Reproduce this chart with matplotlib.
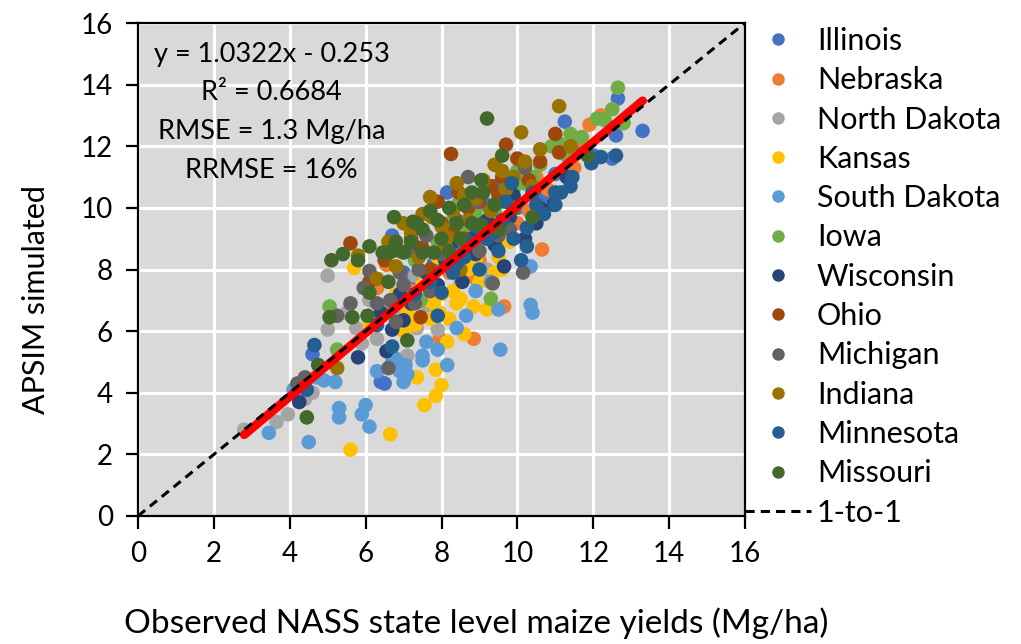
import matplotlib
matplotlib.use("Agg")
import matplotlib.pyplot as plt
from matplotlib.lines import Line2D
import numpy as np

plt.rcParams['font.family'] = ['Lato', 'DejaVu Sans']

states = ["Illinois", "Nebraska", "North Dakota", "Kansas", "South Dakota", "Iowa",
          "Wisconsin", "Ohio", "Michigan", "Indiana", "Minnesota", "Missouri"]
colors = ["#4472C4", "#ED7D31", "#A5A5A5", "#FFC000", "#5B9BD5", "#70AD47",
          "#264478", "#9E480E", "#636363", "#997300", "#255E91", "#43682B"]

illinois = [(12.65,13.55),(13.3,12.5),(12.6,12.35),(12.5,11.6),(11.25,12.8),(8.15,10.5),(6.7,9.1),
            (6.4,4.35),(4.6,5.25),(6.5,4.3),(9.6,9.4),(10.6,10.3),(11.6,11.8),(8.9,8.9),(7.8,8.2),
            (10.2,11.4),(9.2,10.1),(11.0,11.1),(7.3,7.6),(12.0,11.7),
            (9.0,9.5),(10.0,10.0),(8.5,8.7),(7.0,7.9),(10.9,10.4),(9.4,10.7)]
nebraska = [(8.85,5.75),(9.65,6.8),(10.65,8.65),(11.65,12.2),(12.2,13.0),(6.55,8.15),(7.95,5.75),
            (9.3,6.8),(10.0,9.5),(11.5,11.3),(8.2,7.9),(9.0,8.3),(7.6,7.8),(10.8,10.6),(11.9,12.7),
            (6.3,7.4),(8.7,9.2),(10.3,9.9),(9.6,9.0),(7.2,7.3),
            (9.9,10.3),(8.9,7.7),(10.5,11.0),(7.9,8.6),(11.2,11.9),(9.3,9.7)]
north_dakota = [(2.8,2.8),(3.65,3.05),(3.95,3.3),(5.0,7.8),(5.0,6.05),(6.3,5.75),(7.9,6.05),(5.75,6.1),
                (7.1,5.2),(7.35,6.1),(6.6,6.9),(7.0,7.5),(6.1,7.0),(7.8,7.2),(8.5,7.6),(4.6,4.0),
                (5.5,6.6),(6.9,6.6),(8.1,8.6),(9.2,8.0),(4.4,3.8),
                (6.4,6.6),(7.6,6.6),(5.9,5.6),(8.8,8.1),(7.3,7.8)]
kansas = [(5.6,2.15),(6.65,2.65),(7.55,3.6),(7.85,3.9),(8.0,4.25),(7.85,4.75),(7.35,4.5),(8.15,5.65),
          (8.6,5.9),(8.5,7.05),(8.85,6.8),(9.2,6.7),(8.2,6.4),(7.8,6.9),(7.95,6.6),(7.65,7.0),(9.5,8.4),
          (5.7,8.05),(7.3,6.2),(7.1,6.6),(8.3,7.3),(9.0,7.6),(6.8,7.2),(7.5,7.5),(8.7,8.0),(6.1,6.3),
          (9.8,8.9),(7.9,8.4),(8.0,7.2),(8.4,6.9),(9.4,7.9),(7.0,6.0),(8.9,8.3),(9.6,8.0),(7.7,6.4)]
south_dakota = [(3.45,2.7),(4.5,2.4),(5.3,3.5),(5.3,3.2),(6.0,3.6),(5.9,3.3),(6.1,2.9),(6.3,4.7),(7.0,4.35),
                (7.1,4.6),(7.5,5.2),(7.6,5.65),(7.9,5.4),(8.15,4.9),(6.7,5.0),(6.9,4.7),(8.65,6.5),(8.4,6.1),
                (7.5,5.05),(7.05,4.9),(9.55,5.4),(9.5,6.7),(6.8,5.1),(10.35,6.85),(10.4,6.6),(10.35,8.1),
                (4.9,4.4),(5.2,4.35),(4.7,4.5),(4.1,4.1),(8.9,7.3),(9.3,7.6)]
iowa = [(12.65,13.9),(12.5,13.2),(12.1,12.9),(12.3,12.85),(12.8,12.75),(11.4,12.4),(11.1,12.1),(10.9,12.0),
        (10.4,11.0),(5.05,6.8),(5.25,5.4),(7.45,7.0),(9.3,7.05),(8.45,10.15),(9.4,9.9),(10.0,11.2),(9.0,9.3),
        (7.3,8.3),(11.3,11.7),(8.6,9.2),(9.9,10.6),(6.6,8.5),
        (9.6,10.2),(10.6,11.4),(8.9,9.9),(8.2,9.5),(11.7,12.3),(10.2,10.8),(7.9,8.9)]
wisconsin = [(5.8,5.15),(6.7,6.05),(6.55,5.35),(4.25,3.7),(7.0,6.35),(8.55,7.6),(10.6,10.0),(10.95,10.1),
             (9.65,8.1),(7.6,7.9),(8.1,8.3),(9.2,9.6),(6.9,7.2),(10.2,9.0),(8.8,9.0),(7.4,8.7),(11.3,11.0),
             (9.9,10.4),(8.3,8.9),(9.4,8.8),(7.9,7.5),(10.5,9.5),(9.8,9.7),(8.9,8.5),(7.2,6.9),(6.4,6.6)]
ohio = [(5.6,8.85),(8.25,11.75),(11.0,12.4),(9.7,12.05),(11.1,11.8),(8.45,10.5),(9.6,11.0),(7.45,6.45),
        (6.5,8.3),(7.2,9.0),(8.0,9.5),(9.0,10.2),(10.3,10.9),(6.1,7.6),(7.7,8.0),(8.6,9.0),(9.9,10.0),
        (10.6,11.5),(9.3,10.7),(8.7,10.0),(7.5,8.7),(10.0,11.6),(8.3,9.2),(9.5,10.4),(7.9,10.2)]
michigan = [(4.4,4.5),(6.6,4.8),(5.25,6.5),(6.65,7.0),(5.95,7.4),(6.1,7.95),(7.0,7.5),(8.7,11.0),(10.2,11.3),
            (10.15,7.9),(9.35,7.55),(4.2,4.3),(6.8,6.3),(7.4,8.0),(8.0,8.5),(7.6,9.1),(9.0,8.6),(8.4,9.6),
            (7.1,8.6),(5.6,6.9),(9.8,9.3),(7.7,7.3),(8.2,8.1),(6.3,6.9),(8.6,8.8),(9.5,9.1),(7.3,6.9),
            (6.9,7.9),(8.9,10.2)]
indiana = [(11.1,13.3),(10.1,12.45),(7.7,10.35),(10.6,11.9),(9.4,11.4),(5.8,8.45),(5.25,4.8),(7.75,9.7),
           (8.15,9.05),(8.5,8.0),(6.9,8.6),(7.2,9.2),(8.9,10.3),(9.9,11.0),(6.6,8.9),(8.0,9.4),(9.3,9.9),
           (7.4,8.4),(10.4,10.7),(8.7,9.6),(6.3,7.7),(9.7,10.6),(11.4,12.0),(8.4,10.8),
           (8.3,9.9),(9.1,10.9),(7.5,9.8),(8.6,10.4),(9.6,11.2),(7.0,9.5),(8.1,8.8),(10.2,11.5),(6.8,8.1)]
minnesota = [(12.2,11.65),(11.95,11.45),(11.45,11.0),(11.0,10.5),(10.4,10.5),(10.25,9.35),(9.85,10.8),
             (11.15,10.5),(11.0,10.1),(10.25,8.75),(10.1,8.3),(4.65,5.55),(4.45,4.1),(8.0,7.25),(7.9,6.5),
             (6.7,5.5),(9.2,9.0),(9.6,9.6),(8.6,8.4),(7.3,7.2),(10.7,9.8),(9.0,8.0),(8.3,7.9),(6.3,6.2),
             (9.5,8.6),(12.6,11.7),(8.7,8.9),(9.4,9.2),(9.9,9.0),(8.4,8.2),(10.5,10.1),(9.7,10.2),
             (7.7,7.6),(11.4,10.7),(8.9,9.4)]
missouri = [(9.2,12.9),(9.6,11.7),(9.05,10.9),(8.8,10.5),(10.4,9.7),(7.25,9.55),(6.75,9.7),(6.6,8.55),
            (7.0,8.55),(7.5,8.55),(7.8,8.55),(8.4,9.5),(8.8,9.5),(9.05,9.45),(9.1,10.5),(6.1,8.75),
            (6.45,8.55),(6.7,8.6),(7.35,9.5),(5.05,6.45),(5.65,6.45),(6.05,6.5),(4.75,4.9),(4.45,3.2),
            (6.1,7.25),(6.6,7.6),(7.1,5.7),(11.85,11.7),(8.0,9.0),(5.4,8.5),(5.1,8.3),(8.2,8.6),(7.7,9.9),
            (9.5,9.3),(7.9,9.6),(8.5,9.0),(7.2,8.9),(6.8,8.9),(8.6,10.1),(9.4,10.1),(5.8,8.3),(7.5,9.3),
            (8.2,10.0)]

series = [illinois, nebraska, north_dakota, kansas, south_dakota, iowa,
          wisconsin, ohio, michigan, indiana, minnesota, missouri]

slope, intercept = 1.0322, -0.253
stats_text = "y = 1.0322x - 0.253\nR² = 0.6684\nRMSE = 1.3 Mg/ha\nRRMSE = 16%"

fig = plt.figure(figsize=(10.21, 6.44), dpi=100)
ax = fig.add_axes([138/1021, 1-516/644, 607/1021, 493/644])
ax.set_facecolor("#D9D9D9")
ax.set_xlim(0, 16)
ax.set_ylim(0, 16)
ticks = np.arange(0, 17, 2)
ax.set_xticks(ticks)
ax.set_yticks(ticks)
ax.grid(True, color="white", lw=2.2)
ax.set_axisbelow(True)
for sp in ax.spines.values():
    sp.set_color("black")
    sp.set_linewidth(1.6)
ax.tick_params(axis="both", direction="out", length=9, width=1.6, labelsize=20, pad=9)

handles = []
for name, col, pts in zip(states, colors, series):
    arr = np.array(pts)
    ax.scatter(arr[:, 0], arr[:, 1], s=110, color=col, edgecolors="none", zorder=3)
    handles.append(Line2D([], [], marker="o", linestyle="none", markersize=9,
                          markerfacecolor=col, markeredgecolor="none", label=name))

all_x = np.concatenate([np.array(p)[:, 0] for p in series])
xr = np.array([all_x.min(), all_x.max()])
ax.plot(xr, slope * xr + intercept, color="#FF0000", lw=6.3, solid_capstyle="round", zorder=4)
ax.plot([0, 16], [0, 16], color="black", lw=2.2, ls=(0, (3, 2)), zorder=5, clip_on=False)
handles.append(Line2D([], [], color="black", lw=2.2, ls=(0, (3, 2)), label="1-to-1"))

ax.text(0.22, 0.962, stats_text, transform=ax.transAxes, ha="center", va="top",
        fontsize=19.5, linespacing=1.68)

ax.set_xlabel("Observed NASS state level maize yields (Mg/ha)", fontsize=24)
ax.set_ylabel("APSIM simulated", fontsize=22)
ax.xaxis.set_label_coords(0.557, -0.185)
ax.yaxis.set_label_coords(-0.145, 0.44)

ax.legend(handles=handles, loc="upper left", bbox_to_anchor=(1.0, 0.992), frameon=False,
          fontsize=22, handlelength=2.15, handletextpad=0.2, labelspacing=0.37,
          borderaxespad=0, borderpad=0)

fig.savefig("out.png", dpi=100)
